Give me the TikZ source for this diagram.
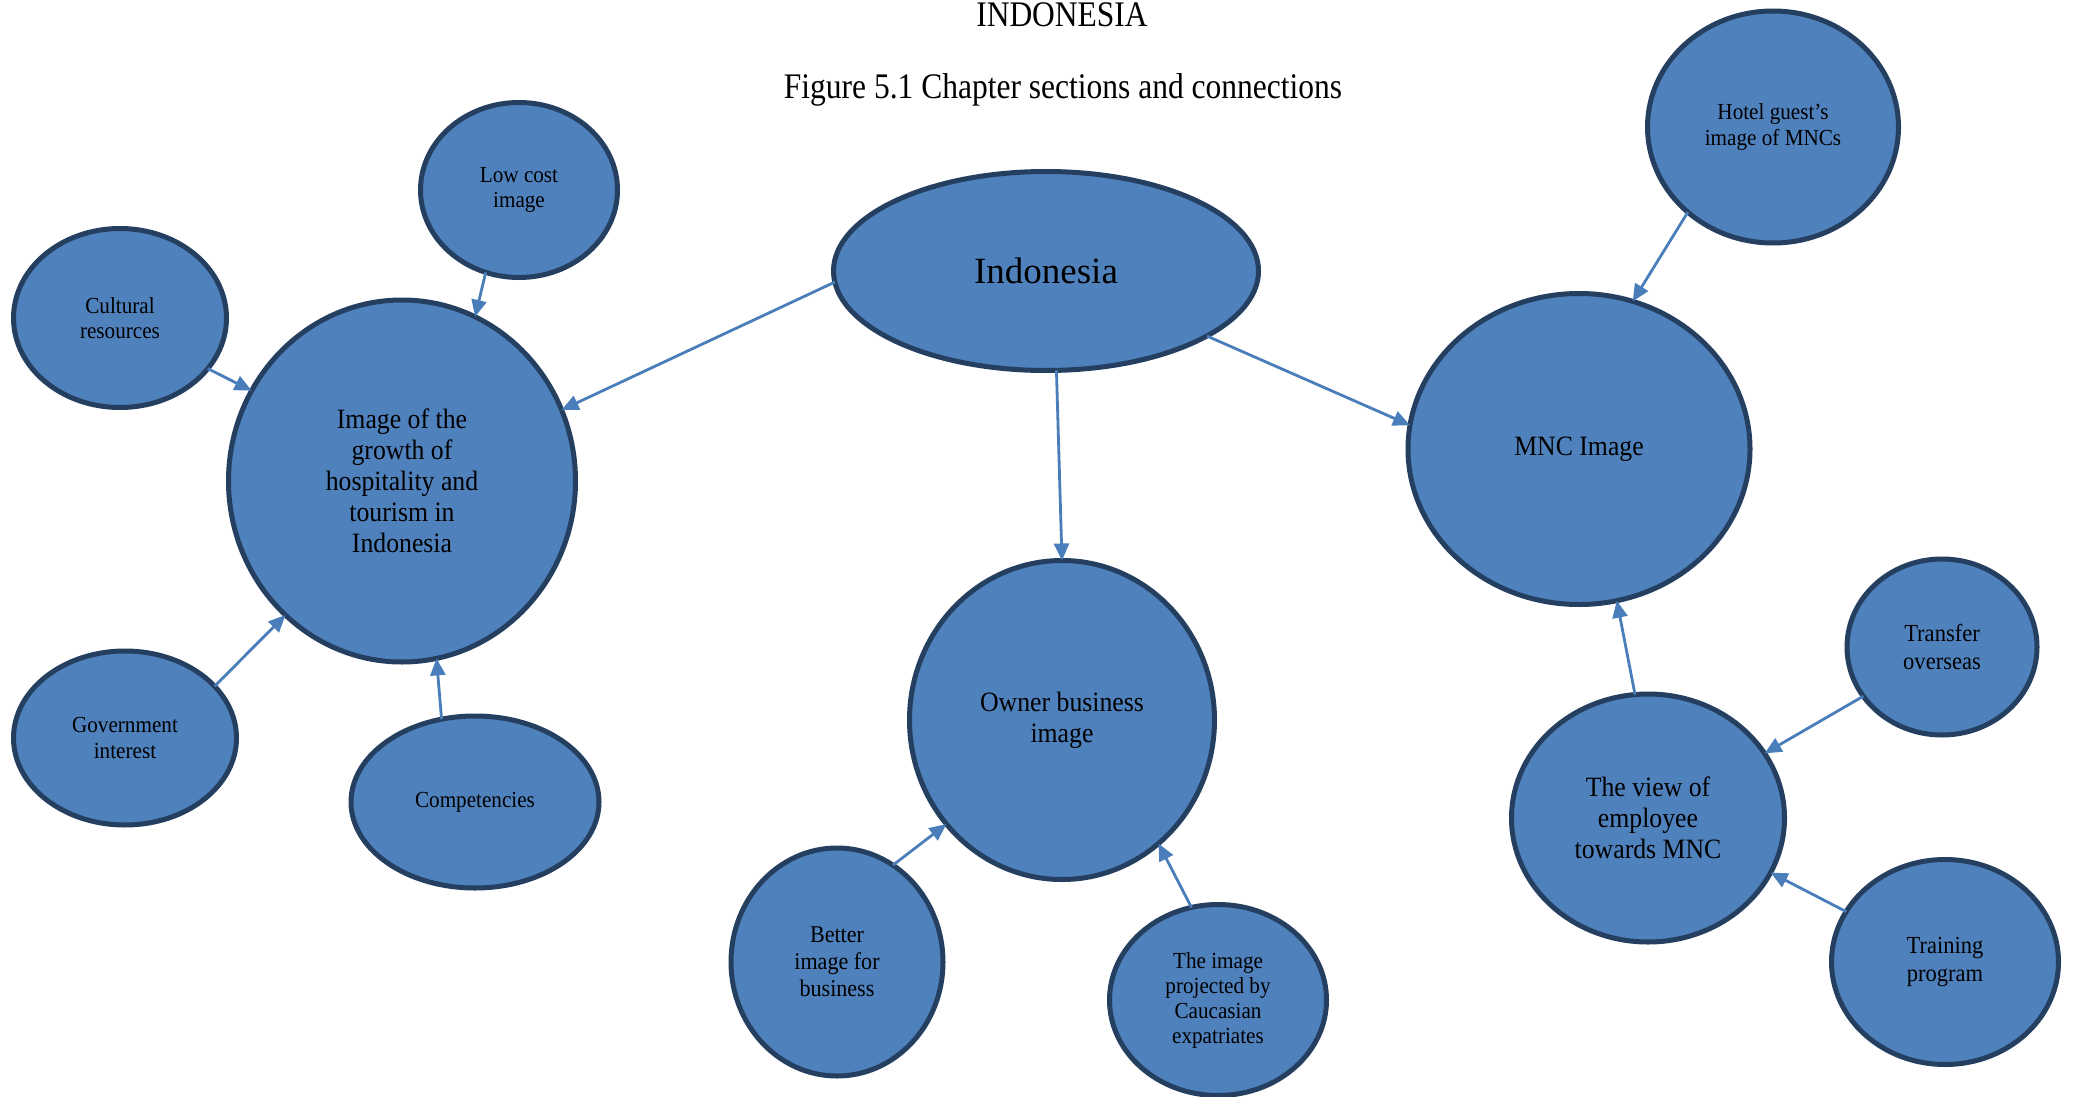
\documentclass[tikz,border=0pt]{standalone}
\usepackage{fontspec}
\setmainfont{Liberation Serif}[FakeStretch=0.92]
\newfontfamily\titlefont{Liberation Serif}[FakeStretch=0.875]
\newfontfamily\plainfont{Liberation Serif}
\usetikzlibrary{shapes.geometric,arrows.meta}
\definecolor{bubfill}{HTML}{4F81BD}
\definecolor{bubline}{HTML}{243F60}
\definecolor{arrowc}{HTML}{4A7EBB}
\tikzset{
  bub/.style={ellipse, draw=bubline, fill=bubfill, line width=5pt, inner sep=0pt, outer sep=0pt, align=center, text=black},
  bigtxt/.style={font=\fontsize{28}{31}\selectfont},
  midtxt/.style={font=\fontsize{24.5}{28}\selectfont},
  smalltxt/.style={font=\fontsize{23}{25.5}\selectfont},
  conn/.style={draw=arrowc, line width=2.8pt, -{Triangle[length=17pt,width=15pt]}},
  ttl/.style={font=\titlefont\fontsize{36}{40}\selectfont, anchor=base, inner sep=0pt}
}
\begin{document}
\begin{tikzpicture}[x=1pt,y=-1pt]
\useasboundingbox[fill=white] (0,0) rectangle (2074,1097);

\node[ttl] (t1) at (1062,27) {INDONESIA};
\node[ttl] (t2) at (1063,99) {Figure 5.1 Chapter sections and connections};

\node[bub, minimum width=425pt, minimum height=199pt, font=\plainfont\fontsize{37}{40}\selectfont] (indo) at (1046,271) {Indonesia};
\node[bub, bigtxt, minimum width=347pt, minimum height=362pt] (growth) at (402,481) {Image of the\\growth of\\hospitality and\\tourism in\\Indonesia};
\node[bub, smalltxt, minimum width=197pt, minimum height=175pt] (lowcost) at (519,190) {Low cost\\image};
\node[bub, smalltxt, minimum width=213pt, minimum height=179pt] (cultural) at (120,318) {Cultural\\resources};
\node[bub, smalltxt, minimum width=223pt, minimum height=174pt] (gov) at (125,738) {Government\\interest};
\node[bub, smalltxt, minimum width=248pt, minimum height=172pt] (comp) at (475,802) {Competencies};
\node[bub, bigtxt, minimum width=305pt, minimum height=319pt] (owner) at (1062,720) {Owner business\\image};
\node[bub, font=\fontsize{24}{27}\selectfont, minimum width=212pt, minimum height=228pt] (better) at (837,962) {Better\\image for\\business};
\node[bub, font=\fontsize{23}{25}\selectfont, minimum width=217pt, minimum height=191pt] (proj) at (1218,1000) {The image\\projected by\\Caucasian\\expatriates};
\node[bub, bigtxt, minimum width=342pt, minimum height=311pt] (mnc) at (1579,449) {MNC Image};
\node[bub, smalltxt, minimum width=251pt, minimum height=232pt] (hotel) at (1773,127) {Hotel guest’s\\image of MNCs};
\node[bub, bigtxt, minimum width=273pt, minimum height=248pt] (view) at (1648,818) {The view of\\employee\\towards MNC};
\node[bub, midtxt, minimum width=190pt, minimum height=176pt] (transfer) at (1942,647) {Transfer\\overseas};
\node[bub, midtxt, minimum width=227pt, minimum height=205pt] (training) at (1945,962) {Training\\program};

\draw[conn] (indo.183.5) -- (growth.24.9);
\draw[conn] (indo.276.4) -- (owner.90.7);
\draw[conn] (indo.338.8) -- (mnc.172.8);
\draw[conn] (lowcost.248.9) -- (growth.66);
\draw[conn] (cultural.330.5) -- (growth.149.2);
\draw[conn] (gov.30.7) -- (growth.229.3);
\draw[conn] (comp.112.7) -- (growth.281.1);
\draw[conn] (hotel.225) -- (mnc.70.2);
\draw[conn] (view.96.3) -- (mnc.284.1);
\draw[conn] (transfer.212.7) -- (view.29.4);
\draw[conn] (training.153.9) -- (view.336.9);
\draw[conn] (better.60.6) -- (owner.222.5);
\draw[conn] (proj.106.8) -- (owner.308.1);
\end{tikzpicture}
\end{document}
